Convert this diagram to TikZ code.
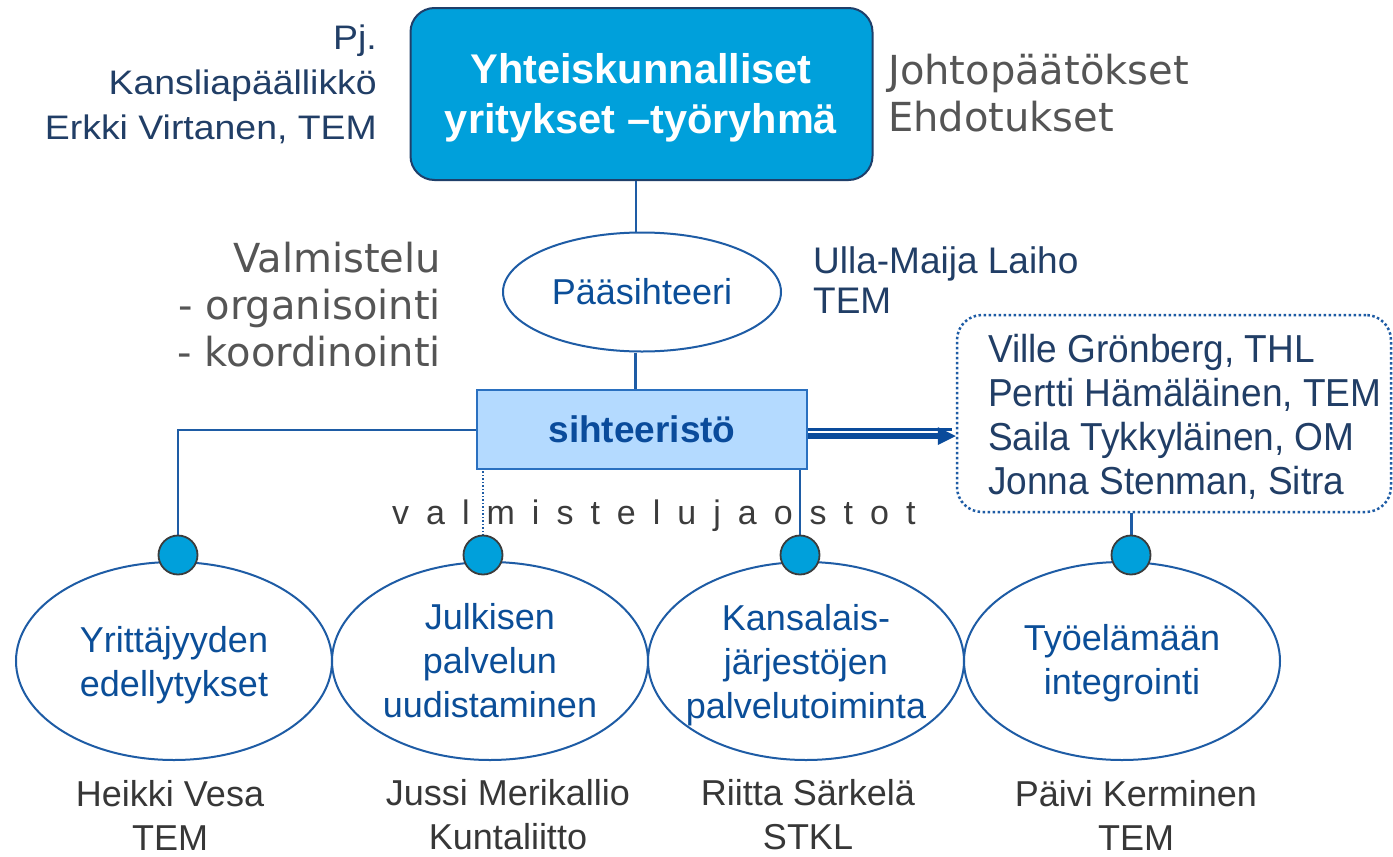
\documentclass[tikz,border=0pt]{standalone}
\usepackage{fontspec}
\setmainfont{Liberation Sans}
\newfontfamily\verdfont{DejaVu Sans}
\newfontfamily\widefont{Liberation Sans}[FakeStretch=1.1]
\newfontfamily\narrowfont{Liberation Sans}[FakeStretch=0.95]
\usetikzlibrary{shapes.geometric,calc}

\definecolor{navytxt}{RGB}{33,62,102}
\definecolor{graytxt}{RGB}{85,85,85}
\definecolor{darkgray}{RGB}{60,60,60}
\definecolor{nametxt}{RGB}{55,55,55}
\definecolor{bluetxt}{RGB}{11,78,152}
\definecolor{linecol}{RGB}{30,92,165}
\definecolor{topfill}{RGB}{0,160,219}
\definecolor{topborder}{RGB}{31,63,106}
\definecolor{secfill}{RGB}{180,218,255}
\definecolor{secborder}{RGB}{42,112,192}
\definecolor{arrowcol}{RGB}{10,75,155}
\definecolor{dotborder}{RGB}{60,60,60}

\begin{document}
\begin{tikzpicture}[x=1pt,y=-1pt,
  conn/.style={draw=linecol, line width=2pt},
  ellbox/.style={ellipse, draw=linecol, line width=2pt, minimum width=316pt, minimum height=198pt, inner sep=0pt},
  bluedot/.style={circle, fill=topfill, draw=dotborder, line width=1.8pt, minimum size=39pt, inner sep=0pt},
  elltext/.style={text=bluetxt, align=center, font=\fontsize{36}{44}\selectfont, inner sep=0pt},
  nametext/.style={text=nametxt, align=center, font=\fontsize{36}{44}\selectfont, inner sep=0pt}
]
\fill[white] (0,0) rectangle (1393,857);
\useasboundingbox (0,0) rectangle (1393,857);

% top box
\node[draw=topborder, fill=topfill, line width=2pt, rounded corners=24pt,
      minimum width=462pt, minimum height=172pt, inner sep=0pt] (top) at (641.5,94) {};
\node[text=white, align=center, font=\bfseries\fontsize{41.5}{50}\selectfont, inner sep=0pt]
      (toptxt) at (641,98) {Yhteiskunnalliset\\yritykset –työryhmä};

% left top text
\node[anchor=east, text=navytxt, align=right, font=\widefont\fontsize{34}{45}\selectfont, inner sep=0pt]
      (pj) at (377,84) {Pj.\\Kansliapäällikkö\\Erkki Virtanen, TEM};

% right top text
\node[anchor=west, text=graytxt, align=left, font=\verdfont\fontsize{40}{47}\selectfont, inner sep=0pt]
      (joht) at (888,93.3) {Johtopäätökset\\Ehdotukset};

% Paasihteeri
\node[ellipse, draw=linecol, line width=2pt, minimum width=278pt, minimum height=119pt, inner sep=0pt,
      text=bluetxt, font=\fontsize{36}{44}\selectfont] (pa) at (642,292) {Pääsihteeri};

\node[anchor=east, text=graytxt, align=right, font=\verdfont\fontsize{40}{47}\selectfont, inner sep=0pt]
      (valm) at (441,305) {Valmistelu\\- organisointi\\- koordinointi};

\node[anchor=west, text=navytxt, align=left, font=\fontsize{37}{40}\selectfont, inner sep=0pt]
      (ulla) at (813,280) {Ulla-Maija Laiho\\TEM};

% sihteeristo
\node[draw=secborder, fill=secfill, line width=2pt, minimum width=330pt, minimum height=79pt, inner sep=0pt,
      text=arrowcol, font=\bfseries\fontsize{37}{44}\selectfont] (sec) at (642,429.5) {sihteeristö};

% dotted team box
\node[draw=linecol, line width=2.5pt, dash pattern=on 2.5pt off 2.5pt, rounded corners=25pt,
      minimum width=434pt, minimum height=197pt, inner sep=0pt] (team) at (1174,413.5) {};
\node[anchor=west, text=navytxt, align=left, font=\narrowfont\fontsize{39}{44}\selectfont, inner sep=0pt]
      (teamtxt) at (988,416.6) {Ville Grönberg, THL\\Pertti Hämäläinen, TEM\\Saila Tykkyläinen, OM\\Jonna Stenman, Sitra};

% bottom ellipses
\node[ellbox] (e1) at (174,661) {};
\node[ellbox] (e2) at (490,661) {};
\node[ellbox] (e3) at (806,661) {};
\node[ellbox] (e4) at (1122,661) {};

% small circle positions
\coordinate (c1pos) at (178,555);
\coordinate (c2pos) at (483,555);
\coordinate (c3pos) at (800,555);
\coordinate (c4pos) at (1131,555);

% connectors
\draw[conn] ([xshift=-6.5pt]pa.north) -- ([xshift=-6.5pt]pa.north |- top.south);
\draw[draw=linecol, line width=3pt] ([xshift=-7pt]pa.south) -- ([xshift=-7pt]pa.south |- sec.north);
\draw[conn] (sec.west) -| ($(c1pos)+(0,-19.5)$);
\draw[draw=linecol, line width=1.5pt, dash pattern=on 1.5pt off 2pt] ($(c2pos)+(0,-19.5)$) -- (c2pos |- sec.south);
\draw[conn] ($(c3pos)+(0,-19.5)$) -- (c3pos |- sec.south);
\draw[draw=linecol, line width=3pt] ($(c4pos)+(0,-19.5)$) -- (c4pos |- team.south);

% double arrow
\coordinate (tip) at (sec.east -| team.west);
\draw[arrowcol, line width=2.4pt] (sec.east) -- ($(tip)+(-4,0)$);
\draw[arrowcol, line width=6pt] ($(sec.east)+(0,6.8)$) -- ($(tip)+(-17,6.8)$);
\fill[arrowcol] ($(tip)+(-18,-2.5)$) -- ($(tip)+(0,6.5)$) -- ($(tip)+(-18,15.5)$) -- cycle;

% circles
\node[bluedot] (c1) at (c1pos) {};
\node[bluedot] (c2) at (c2pos) {};
\node[bluedot] (c3) at (c3pos) {};
\node[bluedot] (c4) at (c4pos) {};

% letter-spaced label
\node[anchor=west, text=darkgray, inner sep=0pt,
      font={\fontsize{34}{40}\selectfont\spaceskip=17pt\relax}] (vj) at (392,515.4)
      {v a l m i s t e l u j a o s t o t};

% ellipse texts
\node[elltext] (t1) at (174,664.8) {Yrittäjyyden\\edellytykset};
\node[elltext] (t2) at (490,661) {Julkisen\\palvelun\\uudistaminen};
\node[elltext] (t3) at (806,664.8) {Kansalais-\\järjestöjen\\palvelutoiminta};
\node[elltext] (t4) at (1122,662.8) {Työelämään\\integrointi};

% names
\node[nametext] (n1) at (170,815) {Heikki Vesa\\TEM};
\node[nametext] (n2) at (508,815) {Jussi Merikallio\\Kuntaliitto};
\node[nametext] (n3) at (808,815) {Riitta Särkelä\\STKL};
\node[nametext] (n4) at (1136,815) {Päivi Kerminen\\TEM};
\end{tikzpicture}
\end{document}
